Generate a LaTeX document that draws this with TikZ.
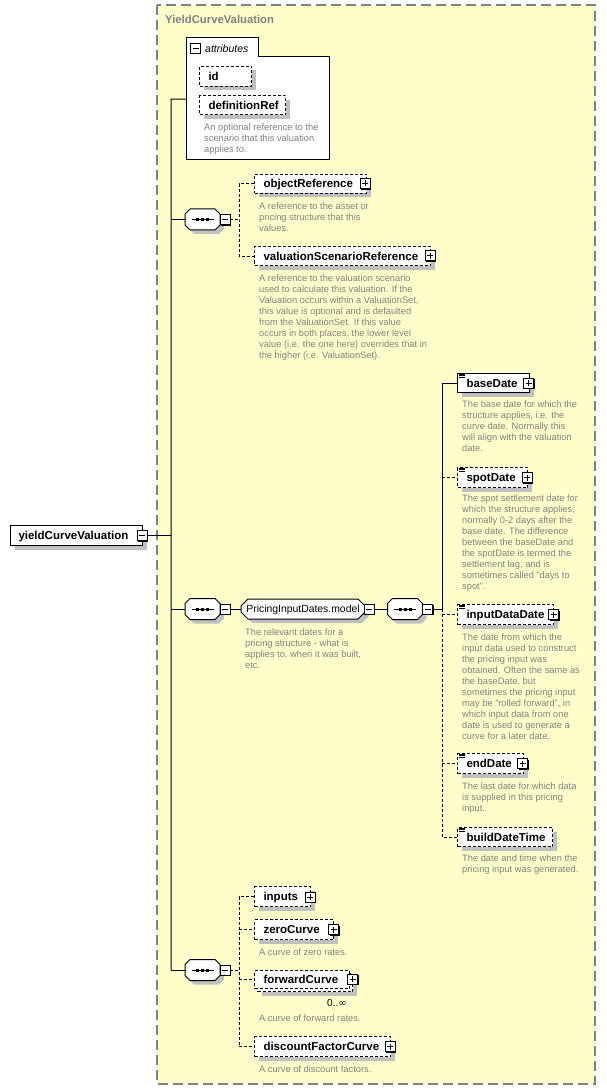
\documentclass[tikz,border=0pt]{standalone}
\usepackage{fontspec}
\setmainfont{Liberation Sans}
\newfontfamily\symfont{DejaVu Sans}
\usetikzlibrary{shapes.misc,shadows}
\definecolor{bgyellow}{HTML}{FFFFCC}
\definecolor{framegray}{HTML}{808080}
\definecolor{descgray}{HTML}{808080}
\definecolor{shadowgray}{HTML}{C0C0C0}
\newcommand\seqoct[1]{%
  \begin{scope}[shift={(#1.center)}]
    \fill[shadowgray] (-13.5,-1.5) -- (-8.5,-6.5) -- (16.5,-6.5) -- (21.5,-1.5) -- (21.5,9.5) -- (16.5,14.5) -- (-8.5,14.5) -- (-13.5,9.5) -- cycle;
    \filldraw[fill=white,draw=black,line width=1pt] (-17.5,-5.5) -- (-12.5,-10.5) -- (12.5,-10.5) -- (17.5,-5.5) -- (17.5,5.5) -- (12.5,10.5) -- (-12.5,10.5) -- (-17.5,5.5) -- cycle;
    \draw[line width=1pt] (-11,0) -- (11,0);
    \fill (-6.5,-1.5) rectangle (-3.5,1.5);
    \fill (-1.5,-1.5) rectangle (1.5,1.5);
    \fill (3.5,-1.5) rectangle (6.5,1.5);
  \end{scope}}
\begin{document}
\begin{tikzpicture}[x=1pt,y=-1pt,
  lblfont/.style={font=\fontsize{11.5}{13}\selectfont\bfseries},
  boxcore/.style={draw=black, fill=white, line width=1pt, anchor=north west, inner sep=0pt, text height=9.5pt, text depth=1.5pt, lblfont},
  shad/.style={drop shadow={shadow xshift=4pt, shadow yshift=-4pt, fill=shadowgray, opacity=1}},
  reqbox/.style={boxcore, shad},
  optbox/.style={boxcore, shad, dash pattern=on 3pt off 2pt},
  optcore/.style={boxcore, dash pattern=on 3pt off 2pt},
  desc/.style={anchor=north west, inner sep=0pt, align=left, text=descgray, font=\fontsize{9.3}{11}\selectfont},
  smallbox/.style={draw=black, fill=white, line width=0.9pt, minimum size=10pt, inner sep=0pt},
  blackshad/.style={drop shadow={shadow xshift=1.3pt, shadow yshift=-1.3pt, fill=black, opacity=1}},
  plusbox/.style={smallbox, blackshad, path picture={\draw[line width=0.9pt] ([xshift=-3pt]path picture bounding box.center) -- ([xshift=3pt]path picture bounding box.center) ([yshift=-3pt]path picture bounding box.center) -- ([yshift=3pt]path picture bounding box.center);}},
  minusbox/.style={smallbox, blackshad, path picture={\draw[line width=0.9pt] ([xshift=-3pt]path picture bounding box.center) -- ([xshift=3pt]path picture bounding box.center);}},
  flatminus/.style={smallbox, path picture={\draw[line width=0.9pt] ([xshift=-3pt]path picture bounding box.center) -- ([xshift=3pt]path picture bounding box.center);}},
  seqnode/.style={rectangle, minimum width=35pt, minimum height=21pt, inner sep=0pt},
  groupnode/.style={chamfered rectangle, chamfered rectangle xsep=3.5pt, draw=black, fill=white, line width=1pt, minimum width=124pt, minimum height=20pt, inner sep=0pt, text height=9pt, text depth=1.5pt, shad, font=\fontsize{10.4}{12}\selectfont},
  solidcon/.style={draw=black, line width=1pt},
  dashcon/.style={draw=black, line width=1pt, dash pattern=on 3pt off 2pt},
  doclines/.style={line width=0.8pt},
]
\useasboundingbox (0,0) rectangle (606,1091);
% frame
\draw[draw=framegray, fill=bgyellow, line width=1.5pt, dash pattern=on 10pt off 5pt] (157,5) rectangle (595,1084);
\node[anchor=west, inner sep=0pt, text=framegray, font=\fontsize{11.3}{13}\selectfont\bfseries] (title) at (165,19) {YieldCurveValuation};

% attributes
\filldraw[fill=white, draw=black, line width=1pt] (186,38) -- (258,38) -- (258,57) -- (329,57) -- (329,160) -- (186,160) -- cycle;
\node[minimum width=143pt, minimum height=122pt, anchor=north west, inner sep=0pt] (attr) at (186,38) {};
\node[flatminus] (attrMinus) at (195.5,48.5) {};
\node[anchor=west, inner sep=0pt, font=\fontsize{10.5}{12}\selectfont\itshape] (attrLabel) at (205,48.5) {attributes};
\node[optbox, minimum height=20pt] (idAttr) at (199,66) {\makebox[52pt][l]{\hspace*{9pt}id}};
\node[optbox, minimum height=19pt] (defRef) at (199,95.5) {\makebox[86pt][l]{\hspace*{9pt}definitionRef}};
\node[desc] (defRefDesc) at (204,123.5) {An optional reference to the\\scenario that this valuation\\applies to.};

% coordinates for connectors
\coordinate (trunkTop) at (171,99);
\coordinate (trunkBot) at (171,970);
\coordinate (br1) at (239,219.5);
\coordinate (br2) at (442,609);
\coordinate (br3) at (239,970);

% main element
\node[reqbox, minimum height=20pt] (ycv) at (10,525) {\makebox[132pt][l]{\hspace*{8pt}yieldCurveValuation}};
\node[minusbox] (ycvMinus) at (142,535.5) {};

% first sequence
\node[seqnode] (seqA) at (202.5,219.5) {};
\seqoct{seqA}
\node[minusbox] (seqAMinus) at (225,219.5) {};
\node[optbox, minimum height=19pt] (objRef) at (254,174) {\makebox[112pt][l]{\hspace*{9pt}objectReference}};
\node[plusbox] (objRefPlus) at (365,183.5) {};
\node[desc] (objRefDesc) at (259,202.5) {A reference to the asset or\\pricing structure that this\\values.};
\node[optbox, minimum height=19pt] (vsr) at (254,246) {\makebox[176pt][l]{\hspace*{9pt}valuationScenarioReference}};
\node[plusbox] (vsrPlus) at (430,255.5) {};
\node[desc] (vsrDesc) at (259,274.2) {A reference to the valuation scenario\\used to calculate this valuation. If the\\Valuation occurs within a ValuationSet,\\this value is optional and is defaulted\\from the ValuationSet. If this value\\occurs in both places, the lower level\\value (i.e. the one here) overrides that in\\the higher (i.e. ValuationSet).};

% second sequence with group
\node[seqnode] (seqB) at (202.5,609) {};
\seqoct{seqB}
\node[minusbox] (seqBMinus) at (225,609) {};
\node[groupnode] (pid) at (303,609) {PricingInputDates.model};
\node[minusbox] (pidMinus) at (369,609) {};
\node[desc] (pidDesc) at (245,628.2) {The relevant dates for a\\pricing structure - what is\\applies to, when it was built,\\etc.};
\node[seqnode] (seqC) at (405,609) {};
\seqoct{seqC}
\node[minusbox] (seqCMinus) at (427.5,609) {};

\node[reqbox, minimum height=19pt] (baseDate) at (457,373) {\makebox[72pt][l]{\hspace*{9pt}baseDate}};
\node[plusbox] (baseDatePlus) at (528.5,383) {};
\node[desc] (baseDateDesc) at (462,400.8) {The base date for which the\\structure applies, i.e. the\\curve date. Normally this\\will align with the valuation\\date.};
\node[optbox, minimum height=20pt] (spotDate) at (457,467) {\makebox[70pt][l]{\hspace*{9pt}spotDate}};
\node[plusbox] (spotDatePlus) at (527,477.5) {};
\node[desc] (spotDateDesc) at (462,494.8) {The spot settlement date for\\which the structure applies,\\normally 0-2 days after the\\base date. The difference\\between the baseDate and\\the spotDate is termed the\\settlement lag, and is\\sometimes called "days to\\spot".};
\node[optbox, minimum height=20pt] (inputDataDate) at (457,604) {\makebox[96pt][l]{\hspace*{9pt}inputDataDate}};
\node[plusbox] (inputDataDatePlus) at (553.5,614.5) {};
\node[desc] (inputDataDateDesc) at (462,633.2) {The date from which the\\input data used to construct\\the pricing input was\\obtained. Often the same as\\the baseDate, but\\sometimes the pricing input\\may be "rolled forward", in\\which input data from one\\date is used to generate a\\curve for a later date.};
\node[optbox, minimum height=20pt] (endDate) at (457,753) {\makebox[66pt][l]{\hspace*{9pt}endDate}};
\node[plusbox] (endDatePlus) at (522.5,763.5) {};
\node[desc] (endDateDesc) at (462,782.2) {The last date for which data\\is supplied in this pricing\\input.};
\node[optbox, minimum height=19pt] (buildDateTime) at (457,827) {\makebox[95pt][l]{\hspace*{9pt}buildDateTime}};
\node[desc] (buildDateTimeDesc) at (462,854.2) {The date and time when the\\pricing input was generated.};

% simple-content icons
\foreach \n in {baseDate,spotDate,inputDataDate,endDate,buildDateTime}{
  \draw[doclines] ([xshift=2pt,yshift=-1pt]\n.north west) -- ++(6pt,0pt);
  \draw[doclines] ([xshift=2pt,yshift=-2.8pt]\n.north west) -- ++(6pt,0pt);
  \draw[doclines] ([xshift=2pt,yshift=-4.6pt]\n.north west) -- ++(6pt,0pt);
}

% third sequence
\node[seqnode] (seqD) at (202.5,970) {};
\seqoct{seqD}
\node[minusbox] (seqDMinus) at (225,970) {};
\node[optbox, minimum height=20pt] (inputs) at (254,886) {\makebox[56pt][l]{\hspace*{9pt}inputs}};
\node[plusbox] (inputsPlus) at (310,897) {};
\node[optbox, minimum height=20pt] (zeroCurve) at (254,919) {\makebox[79pt][l]{\hspace*{9pt}zeroCurve}};
\node[plusbox] (zeroCurvePlus) at (333.5,929.5) {};
\node[desc] (zeroCurveDesc) at (259,948.2) {A curve of zero rates.};
\node[optbox, minimum height=18pt] (fwdBack) at (257,973) {\makebox[95pt][l]{}};
\node[optcore, minimum height=18pt] (fwd) at (254,970) {\makebox[95pt][l]{\hspace*{9pt}forwardCurve}};
\node[plusbox] (fwdPlus) at (352.5,979) {};
\node[anchor=west, inner sep=0pt, font=\fontsize{10}{12}\selectfont] (fwdOcc) at (327,1003) {0..{\symfont ∞}};
\node[desc] (fwdDesc) at (259,1014.8) {A curve of forward rates.};
\node[optbox, minimum height=20pt] (dfc) at (254,1036) {\makebox[136pt][l]{\hspace*{9pt}discountFactorCurve}};
\node[plusbox] (dfcPlus) at (390,1046.5) {};
\node[desc] (dfcDesc) at (259,1065.5) {A curve of discount factors.};

% connectors
\draw[solidcon] (attr.west) -- (trunkTop) -- (trunkBot);
\draw[solidcon] (ycvMinus.east) -- (ycvMinus.east -| trunkTop);
\draw[solidcon] (seqA.west -| trunkTop) -- (seqA.west);
\draw[dashcon] (seqAMinus.east) -- (br1);
\draw[dashcon] (objRef.west) -| (br1) |- (vsr.west);
\draw[solidcon] (seqB.west -| trunkTop) -- (seqB.west);
\draw[solidcon] (seqBMinus.east) -- (pid.west);
\draw[solidcon] (pidMinus.east) -- (seqC.west);
\draw[solidcon] (seqCMinus.east) -- (br2) |- (baseDate.west);
\draw[dashcon] (spotDate.west -| br2) -- (spotDate.west);
\draw[dashcon] (br2) |- (buildDateTime.west);
\draw[dashcon] (inputDataDate.west -| br2) -- (inputDataDate.west);
\draw[dashcon] (endDate.west -| br2) -- (endDate.west);
\draw[solidcon] (trunkBot) -- (seqD.west);
\draw[dashcon] (seqDMinus.east) -- (br3);
\draw[dashcon] (inputs.west) -| (br3) |- (dfc.west);
\draw[dashcon] (zeroCurve.west -| br3) -- (zeroCurve.west);
\draw[dashcon] (fwd.west -| br3) -- (fwd.west);
\end{tikzpicture}
\end{document}
